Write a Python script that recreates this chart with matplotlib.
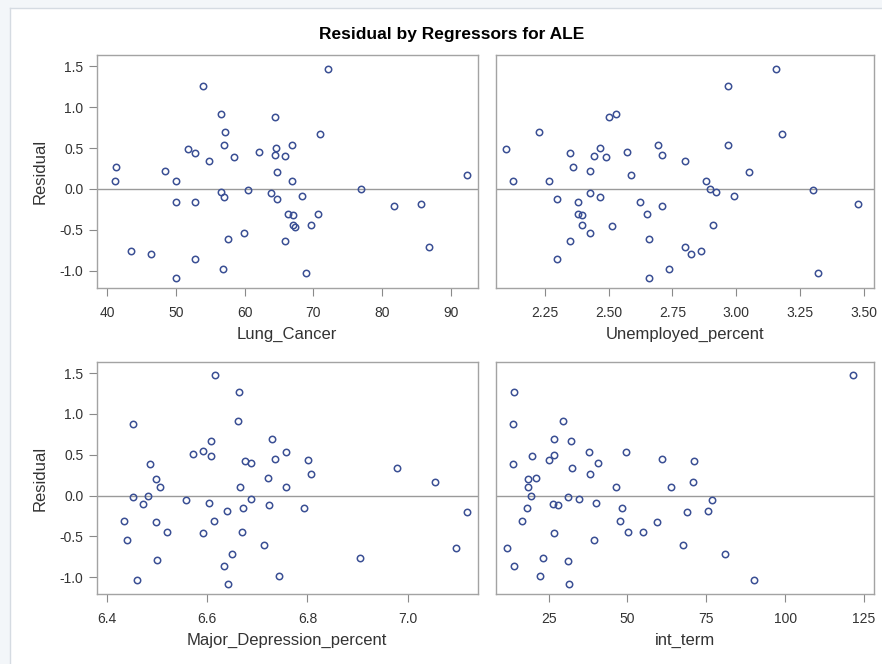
import matplotlib
matplotlib.use("Agg")
import matplotlib.pyplot as plt
from matplotlib.patches import Rectangle
from matplotlib.lines import Line2D

plt.rcParams['font.family'] = ['Liberation Sans', 'DejaVu Sans']

# Regressor values and the residual for each observation, per panel
lung_cancer = [41.25, 41.06, 54.0, 56.6, 57.2, 57.0, 51.8, 52.8, 54.8, 58.4,
               48.4, 50.0, 56.6, 57.0, 50.0, 52.8, 57.6, 43.4, 46.4, 52.8,
               56.8, 50.0, 72.1, 64.45, 70.9, 64.6, 66.9, 62.1, 64.45, 65.85,
               64.7, 66.9, 60.5, 76.9, 63.9, 64.7, 68.3, 81.7, 85.7, 92.3,
               66.3, 67.05, 70.7, 67.05, 67.3, 69.7, 65.85, 86.9, 68.9, 59.9]
resid_lung = [0.274, 0.102, 1.266, 0.915, 0.694, 0.543, 0.486, 0.445, 0.339, 0.388,
              0.221, 0.102, -0.033, -0.098, -0.155, -0.155, -0.609, -0.760, -0.792, -0.858,
              -0.980, -1.087, 1.471, 0.878, 0.678, 0.507, 0.539, 0.458, 0.421, 0.404,
              0.204, 0.102, -0.016, 0.0, -0.053, -0.118, -0.086, -0.204, -0.188, 0.167,
              -0.306, -0.323, -0.306, -0.441, -0.462, -0.441, -0.641, -0.711, -1.033, -0.539]

unemployed = [2.097, 2.124, 2.228, 2.266, 2.299, 2.297, 2.349, 2.359, 2.380, 2.380,
              2.397, 2.397, 2.349, 2.429, 2.441, 2.468, 2.489, 2.429, 2.468, 2.429,
              2.500, 2.528, 2.512, 2.572, 2.588, 2.621, 2.649, 2.659, 2.659, 2.692,
              2.708, 2.708, 2.736, 2.800, 2.882, 2.896, 2.920, 2.990, 2.968, 2.968,
              3.157, 3.180, 3.049, 2.908, 2.800, 2.822, 2.860, 3.299, 3.478, 3.321]
resid_unemp = [0.490, 0.102, 0.694, 0.102, -0.118, -0.862, 0.437, 0.270, -0.155, -0.306,
               -0.323, -0.441, -0.641, 0.221, 0.404, 0.507, 0.388, -0.053, -0.102, -0.539,
               0.882, 0.915, -0.458, 0.458, 0.167, -0.155, -0.306, -0.609, -1.087, 0.539,
               0.421, -0.204, -0.980, 0.339, 0.102, 0.0, -0.033, -0.086, 1.266, 0.539,
               1.471, 0.678, 0.204, -0.441, -0.711, -0.792, -0.760, -0.016, -0.188, -1.033]

major_depression = [6.451, 6.433, 6.439, 6.459, 6.451, 6.472, 6.481, 6.486, 6.497, 6.506,
                    6.497, 6.500, 6.519, 6.558, 6.572, 6.591, 6.608, 6.608, 6.603, 6.591,
                    6.616, 6.613, 6.639, 6.649, 6.633, 6.641, 6.663, 6.661, 6.676, 6.666,
                    6.671, 6.669, 6.688, 6.688, 6.730, 6.758, 6.736, 6.802, 6.807, 6.721,
                    6.758, 6.724, 6.794, 6.713, 6.744, 6.978, 7.055, 7.119, 7.097, 6.905]
resid_depr = [0.878, -0.306, -0.543, -1.033, -0.016, -0.102, 0.0, 0.388, 0.204, 0.102,
              -0.323, -0.792, -0.441, -0.053, 0.507, 0.540, 0.674, 0.490, -0.086, -0.458,
              1.471, -0.306, -0.188, -0.711, -0.866, -1.083, 1.266, 0.911, 0.421, 0.102,
              -0.151, -0.441, 0.404, -0.037, 0.690, 0.539, 0.453, 0.437, 0.265, 0.216,
              0.102, -0.118, -0.151, -0.609, -0.985, 0.339, 0.167, -0.204, -0.641, -0.764]

int_term = [14.0, 13.6, 13.6, 11.8, 14.0, 16.6, 18.0, 18.4, 18.4, 19.3,
            21.1, 19.7, 23.3, 22.4, 25.0, 26.8, 26.8, 26.3, 28.1, 26.8,
            29.4, 32.1, 32.5, 31.1, 31.0, 31.6, 34.6, 37.7, 38.1, 40.8,
            39.9, 39.5, 46.5, 48.3, 47.5, 49.6, 50.1, 54.9, 59.3, 61.0,
            63.8, 71.1, 70.7, 76.8, 75.5, 68.9, 67.6, 80.8, 90.0, 121.4]
resid_int = [1.266, 0.878, 0.388, -0.645, -0.866, -0.306, -0.155, 0.102, 0.200, 0.0,
             0.221, 0.490, -0.764, -0.985, 0.441, 0.502, 0.690, -0.102, -0.118, -0.458,
             0.911, 0.674, 0.339, -0.016, -0.797, -1.087, -0.037, 0.539, 0.270, 0.404,
             -0.086, -0.543, 0.102, -0.155, -0.306, 0.539, -0.441, -0.441, -0.323, 0.453,
             0.102, 0.421, 0.167, -0.053, -0.188, -0.204, -0.609, -0.711, -1.033, 1.471]

y_ticks = [-1.0, -0.5, 0.0, 0.5, 1.0, 1.5]
lung_ticks = [40, 50, 60, 70, 80, 90]
unemp_ticks = [2.25, 2.50, 2.75, 3.00, 3.25, 3.50]
depr_ticks = [6.4, 6.6, 6.8, 7.0]
int_ticks = [25, 50, 75, 100, 125]

W, H = 882, 664
fig = plt.figure(figsize=(W / 100, H / 100), dpi=100)
fig.patch.set_facecolor('#f3f6f9')

# white page with a thin frame on the left and top edges
fig.add_artist(Rectangle((10 / W, 0), 1, 1 - 8 / H, transform=fig.transFigure,
                         facecolor='white', edgecolor='none', zorder=0))
fig.add_artist(Line2D([10 / W, 10 / W], [0, 1 - 8 / H], transform=fig.transFigure,
                      color='#d5dbe2', lw=1.0))
fig.add_artist(Line2D([10 / W, 1], [1 - 8 / H, 1 - 8 / H], transform=fig.transFigure,
                      color='#d5dbe2', lw=1.0))

def px_box(x0, y0, x1, y1):
    return [x0 / W, 1 - y1 / H, (x1 - x0) / W, (y1 - y0) / H]

panels = [
    (px_box(96.7, 55, 477.7, 287.7), lung_cancer, resid_lung, lung_ticks,
     (38.45, 93.93), 'Lung_Cancer', '{:.0f}', True),
    (px_box(496, 55, 874, 287.7), unemployed, resid_unemp, unemp_ticks,
     (2.059, 3.539), 'Unemployed_percent', '{:.2f}', False),
    (px_box(96.7, 361.7, 477.7, 594.3), major_depression, resid_depr, depr_ticks,
     (6.379, 7.14), 'Major_Depression_percent', '{:.1f}', True),
    (px_box(496, 361.7, 874, 594.3), int_term, resid_int, int_ticks,
     (8.29, 128.2), 'int_term', '{:.0f}', False),
]

marker_color = '#3a4f94'
frame_color = '#a3a3a3'
text_color = '#333333'

for box, xs, ys, xt, xlim, xlabel, fmt, left in panels:
    ax = fig.add_axes(box)
    ax.set_facecolor('white')
    ax.axhline(0, color='#9a9a9a', lw=1.0, zorder=1)
    ax.plot(xs, ys, linestyle='none', marker='o', markersize=4.6,
            markerfacecolor='none', markeredgecolor=marker_color,
            markeredgewidth=1.1, zorder=3)
    ax.set_xlim(*xlim)
    ax.set_ylim(-1.21, 1.64)
    ax.set_xticks(xt)
    ax.set_xticklabels([fmt.format(v) for v in xt])
    ax.set_xlabel(xlabel, fontsize=12, color=text_color, labelpad=5)
    for s in ax.spines.values():
        s.set_color(frame_color)
        s.set_linewidth(1.0)
    ax.tick_params(axis='x', direction='out', length=5.5, width=0.8,
                   color='#8a8a8a', labelsize=10, labelcolor=text_color, pad=7.5)
    if left:
        ax.set_yticks(y_ticks)
        ax.set_yticklabels(['{:.1f}'.format(v) for v in y_ticks])
        ax.tick_params(axis='y', direction='out', length=5.5, width=0.8,
                       color='#8a8a8a', labelsize=10, labelcolor=text_color, pad=4)
        ax.set_ylabel('Residual', fontsize=12, color=text_color, labelpad=9)
    else:
        ax.set_yticks([])

fig.text(451.7 / W, 1 - 34 / H, 'Residual by Regressors for ALE', ha='center',
         va='center', fontsize=12.5, fontweight='bold', color='black')

fig.savefig('out.png', dpi=100, facecolor=fig.get_facecolor())
